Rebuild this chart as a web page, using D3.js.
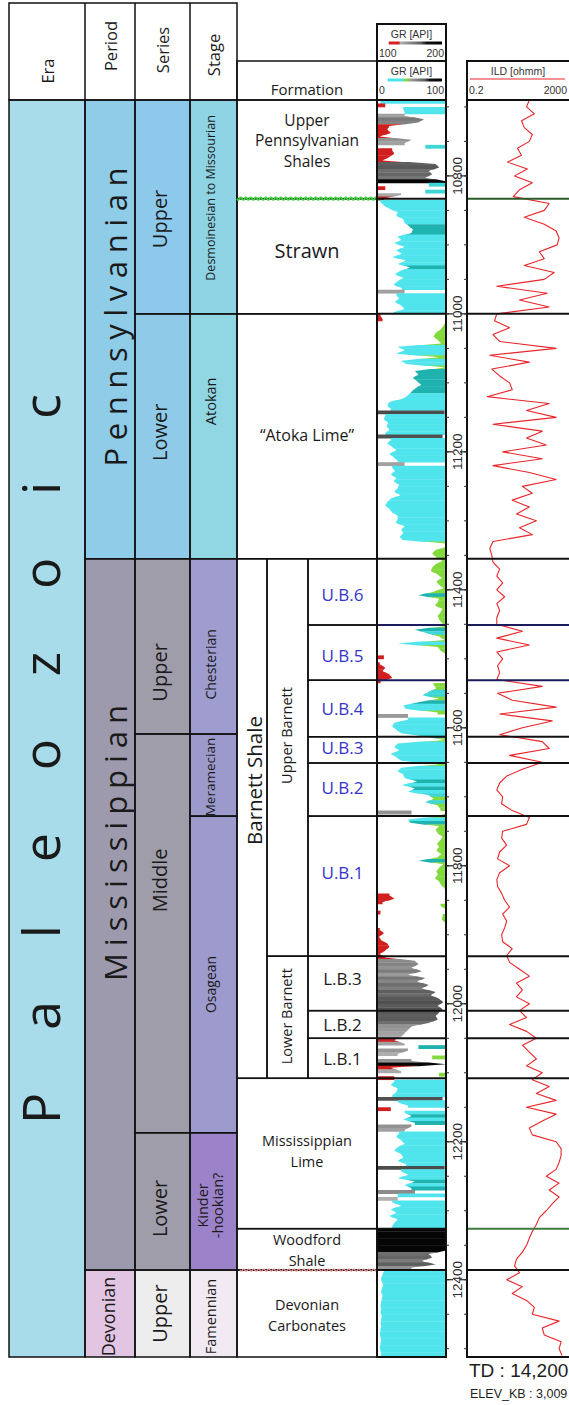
<!DOCTYPE html>
<html>
<head>
<meta charset="utf-8">
<title>Barnett Shale stratigraphic column</title>
<script src="https://cdn.jsdelivr.net/npm/d3@7/dist/d3.min.js"></script>
<style>
  html, body { margin: 0; padding: 0; background: #fff; }
  svg { display: block; }
</style>
</head>
<body>
<script>
// ---------- depth frame (ft) ----------
const depthRange = [10690, 12512];
const depthTicks = [10800, 11000, 11200, 11400, 11600, 11800, 12000, 12200, 12400];

// ---------- chronostratigraphy: [name, top, base] ----------
const eras = [["Paleozoic", 10690, 12512]];
const periods = [["Pennsylvanian", 10690, 11355], ["Mississippian", 11355, 12386], ["Devonian", 12386, 12512]];
const seriesUnits = [["Upper", 10690, 11000], ["Lower", 11000, 11355], ["Upper", 11355, 11609],
  ["Middle", 11609, 12187], ["Lower", 12187, 12386], ["Upper", 12386, 12512]];
const stages = [["Desmoinesian to Missourian", 10690, 11000], ["Atokan", 11000, 11355],
  ["Chesterian", 11355, 11609], ["Meramecian", 11609, 11728], ["Osagean", 11728, 12187],
  ["Kinder\n-hookian?", 12187, 12386], ["Famennian", 12386, 12512]];

// ---------- lithostratigraphy ----------
const formations = [["Upper\nPennsylvanian\nShales", 10690, 10833], ["Strawn", 10833, 11000],
  ["\u201CAtoka Lime\u201D", 11000, 11355], ["Mississippian\nLime", 12108, 12326],
  ["Woodford\nShale", 12326, 12386], ["Devonian\nCarbonates", 12386, 12512]];
const barnettShale = [["Barnett Shale", 11355, 12108]];
const barnettMembers = [["Upper Barnett", 11355, 11931], ["Lower Barnett", 11931, 12108]];
const barnettUnits = [["U.B.6", 11355, 11451], ["U.B.5", 11451, 11531], ["U.B.4", 11531, 11613],
  ["U.B.3", 11613, 11651], ["U.B.2", 11651, 11728], ["U.B.1", 11728, 11931],
  ["L.B.3", 11931, 12010], ["L.B.2", 12010, 12050], ["L.B.1", 12050, 12108]];

// ---------- gamma ray [API], 5 ft samples from 10690 ft ----------
const grStart = 10690, grStep = 5;
const grUpperPennShales = [5, 112, 38, 40, 140, 168, 160, 118, 115, 120, 104, 150, 140, 70, 122,
  125, 118, 108, 185, 190, 175, 180, 170, 210, 75, 112, 70, 135, 110];
const grStrawn = [5, 10, 18, 30, 28, 38, 40, 46, 52, 50, 30, 35, 25, 40, 28, 36, 22, 42, 30, 48,
  33, 26, 38, 30, 24, 36, 140, 28, 32, 26, 35, 40, 24];
const grAtoka = [105, 108, 99, 96, 92, 85, 82, 88, 93, 30, 40, 28, 90, 35, 42, 99, 55, 60, 52, 58,
  64, 56, 50, 45, 38, 18, 15, 20, 198, 12, 10, 16, 14, 18, 12, 195, 20, 15, 22, 28,
  18, 24, 30, 140, 22, 26, 20, 28, 24, 32, 30, 25, 34, 20, 15, 12, 18, 22, 30, 30,
  27, 40, 35, 38, 33, 37, 99, 99, 84, 80, 86];
const grUB6 = [95, 85, 80, 78, 88, 94, 86, 90, 96, 82, 60, 90, 88, 84, 95, 92, 88, 90, 94, 97];
const grUB5 = [55, 72, 90, 98, 30, 88, 92, 99, 110, 99, 104, 112, 108, 118, 122, 105];
const grUB4 = [82, 86, 75, 66, 90, 60, 38, 42, 88, 145, 45, 25, 22, 28, 35, 70, 98];
const grUB3 = [30, 25, 32, 20, 28, 35, 90];
const grUB2 = [35, 30, 38, 40, 58, 36, 55, 45, 75, 82, 70, 88, 92, 150, 95];
const grUB1 = [45, 48, 90, 85, 88, 95, 92, 87, 90, 86, 93, 88, 60, 96, 90, 86, 88, 84, 90, 93,
  98, 99, 118, 125, 108, 92, 99, 105, 95, 94, 99, 100, 104, 110, 103, 106, 115, 118, 112, 104];
const grLB3 = [112, 155, 160, 150, 165, 145, 170, 158, 175, 165, 185, 178, 190, 196, 188, 195];
const grLB2 = [190, 185, 188, 175, 150, 145, 140, 135, 125];
const grLB1 = [140, 60, 145, 130, 80, 150, 200, 120, 135, 90, 125];
const grMissLime = [25, 20, 30, 28, 22, 195, 30, 45, 120, 40, 50, 38, 55, 150, 140, 32, 28, 35, 40, 30,
  25, 35, 38, 30, 42, 198, 35, 45, 30, 55, 40, 50, 155, 30, 130, 22, 35, 20, 28, 18,
  30, 25, 22];
const grWoodford = [210, 210, 210, 210, 210, 210, 210, 175, 180, 165, 185, 150];
const grDevonian = [10, 8, 6, 7, 9, 7, 6, 8, 7, 6, 5, 6, 5, 7, 6, 5, 6, 5, 4, 5, 6, 5, 4, 5, 6, 5];

// ---------- deep induction resistivity [ohmm], 10 ft samples from 10690 ft ----------
const ildStart = 10690, ildStep = 10;
const ildUpperPenn = [50, 39, 78, 25, 32, 65, 50, 17.5, 25, 7.3, 42, 13.5, 65, 21, 12,
  290, 187, 32, 187, 537, 698, 586, 121, 187, 32, 451, 187, 2.8, 244, 21, 290];
const ildAtoka = [2.8, 2.3, 8.7, 2, 3.6, 537, 1.5, 50, 1.8, 3.6, 8.7, 11, 1.2, 290, 39, 537, 2, 157,
  39, 223, 4.7, 157, 2, 50, 537, 27, 65, 11, 50, 16, 93, 21, 65, 2, 1.5, 1.8];
const ildUpperBarnett = [2, 3.6, 2.8, 4.7, 2.8, 5.6, 2.8, 3.6, 2.8, 2.8, 27, 2.8, 50, 2.8, 4.7,
  3, 3.6, 2.8, 157, 3, 11, 537, 3.6, 378, 27, 3.6, 157, 290, 8.7, 157, 27, 6.7, 3.6, 2.8, 4.7,
  4.3, 11, 50, 39, 4.7, 4.3, 6.7, 3.6, 3, 8.7, 3.6, 2.8, 3, 4.3, 5.6, 8.7, 4.7, 6.7, 5.6, 4.3, 4.7, 11];
const ildLowerBarnett = [6.7, 8.7, 21, 50, 16, 27, 16, 50, 21, 39, 8.7, 39, 93, 27, 50, 93, 39, 157, 65, 290];
const ildLower = [93, 537, 39, 537, 157, 50, 65, 537, 832, 832, 698, 537, 223, 698, 290, 698, 378,
  223, 121, 93, 65, 50, 39, 27, 16, 13.5, 21, 6.7, 27, 11, 39, 78, 65, 698, 157, 187, 832, 698, 908];

// boundaries crossing the log tracks: [depth, GR-track colour, ILD-track colour]
const trackBreaks = [[10833, "#111", "#2b5a2b"], [11000, "#111", "#111"], [11355, "#111", "#111"],
  [11451, "#1c1c5c", "#1c1c5c"], [11531, "#1c1c5c", "#1c1c5c"], [11613, "#111", "#111"],
  [11651, "#111", "#111"], [11728, "#111", "#111"], [11931, "#111", "#111"], [12010, "#111", "#111"],
  [12050, "#111", "#111"], [12108, "#111", "#111"], [12326, "#111", "#3e7a3e"], [12386, "#111", "#111"]];

// ---------- styling ----------
const SANS = "'Open Sans', 'Noto Sans', sans-serif";
const ARIAL = "'Liberation Sans', Arial, sans-serif";
const eraFill = ["#a9dcea"];
const periodFill = ["#8fcce7", "#9d9aad", "#e2c5e2"];
const seriesFill = ["#8dc9ea", "#8fcbe9", "#a09dab", "#a09dab", "#a09dab", "#ededee"];
const stageFill = ["#8fd4e4", "#90d6e3", "#9f9dd0", "#9c9acc", "#9d9ace", "#9c83c9", "#f2eaf3"];

const X = { era: [9, 85], period: [85, 135], series: [135, 190], stage: [190, 237],
  form: [237, 377], shale: [237, 267], member: [267, 308], unit: [308, 377],
  gr: [377, 446], depth: [446, 467], ild: [467, 571] };

const svg = d3.select("body").append("svg").attr("width", 569).attr("height", 1405);
const y = d3.scaleLinear().domain(depthRange).range([100, 1357]);
const xGR = d3.scaleLinear().domain([0, 100]).range(X.gr);
const xGRwrap = d3.scaleLinear().domain([100, 200]).range(X.gr).clamp(true);
const xILD = d3.scaleLog().domain([0.2, 2000]).range(X.ild);

const defs = svg.append("defs");
const gFill = svg.append("g");
const gLog = svg.append("g");
const gText = svg.append("g");
const gLine = svg.append("g");

function band(x, top, base, fill) {
  gFill.append("rect").attr("x", x[0]).attr("y", y(top))
    .attr("width", x[1] - x[0]).attr("height", y(base) - y(top)).attr("fill", fill);
}
function frame(x, top, base, w = 1.5, stroke = "#111") {
  gLine.append("rect").attr("x", x[0]).attr("y", y(top))
    .attr("width", x[1] - x[0]).attr("height", y(base) - y(top))
    .attr("fill", "none").attr("stroke", stroke).attr("stroke-width", w);
}
function hline(x0, x1, yy, stroke = "#111", w = 1.5) {
  gLine.append("line").attr("x1", x0).attr("x2", x1).attr("y1", yy).attr("y2", yy)
    .attr("stroke", stroke).attr("stroke-width", w);
}
function vText(x, yc, str, size, opt = {}) {
  const t = gText.append("text")
    .attr("transform", `translate(${x},${yc}) rotate(-90)`)
    .attr("text-anchor", "middle")
    .attr("dominant-baseline", opt.baseline || "central")
    .attr("font-family", opt.font || SANS)
    .attr("font-size", size)
    .attr("fill", opt.fill || "#1a1a1a")
    .text(str);
  if (opt.len) t.attr("textLength", opt.len).attr("lengthAdjust", "spacing");
  return t;
}
function hText(x, yc, str, size, opt = {}) {
  return gText.append("text").attr("x", x).attr("y", yc)
    .attr("text-anchor", opt.anchor || "middle")
    .attr("dominant-baseline", opt.baseline || "central")
    .attr("font-family", opt.font || SANS)
    .attr("font-size", size)
    .attr("fill", opt.fill || "#1a1a1a")
    .text(str);
}
function hLines(x, yc, str, size, lh, opt = {}) {
  const lines = str.split("\n");
  lines.forEach((s, i) => hText(x, yc + (i - (lines.length - 1) / 2) * lh, s, size, opt));
}
const mid = (a, b) => (y(a) + y(b)) / 2;

// ---------- column fills ----------
eras.forEach((d, i) => band(X.era, d[1], d[2], eraFill[i]));
periods.forEach((d, i) => band(X.period, d[1], d[2], periodFill[i]));
seriesUnits.forEach((d, i) => band(X.series, d[1], d[2], seriesFill[i]));
stages.forEach((d, i) => band(X.stage, d[1], d[2], stageFill[i]));

// ---------- era / period labels (spaced capitals) ----------
vText(60, 759, eras[0][0], 52, { baseline: "alphabetic", len: 730 });
vText(127, 317, periods[0][0], 31, { baseline: "alphabetic", len: 299 });
vText(127, 843, periods[1][0], 31, { baseline: "alphabetic", len: 276 });
vText(108, mid(periods[2][1], periods[2][2]) + 3, periods[2][0], 18);

// series labels, nudged where the label sits off-centre in its box
const seriesNudge = [12, -4, 26, -53, 7, 0];
seriesUnits.forEach((d, i) => vText(159, mid(d[1], d[2]) + seriesNudge[i], d[0], 20));

const stageNudge = [-9, -35, 18, 2, 10, 4, 3];
const stageSize = [12.5, 14.5, 14, 13.5, 14, 14.5, 14.5];
stages.forEach((d, i) => {
  const lines = d[0].split("\n");
  lines.forEach((s, j) => vText(210 + (j - (lines.length - 1) / 2) * 15, mid(d[1], d[2]) + stageNudge[i], s, stageSize[i]));
});

// ---------- formation labels ----------
const formNudge = [-9, -6, -1, -2, 1, 1];
const formSize = [15.5, 20, 16, 14.5, 14.5, 14.5];
formations.forEach((d, i) => hLines(307, mid(d[1], d[2]) + formNudge[i], d[0], formSize[i], d[0].split("\n").length > 2 ? 20.5 : 21));

vText(254, mid(barnettShale[0][1], barnettShale[0][2]) - 38, barnettShale[0][0], 20.5);
const memberNudge = [-22, -1];
barnettMembers.forEach((d, i) => vText(286, mid(d[1], d[2]) + memberNudge[i], d[0], 14.5));
const unitNudge = [3, 3, 0, -2, -2, -14, -5, 0, 0];
barnettUnits.forEach((d, i) => hText(342.5, mid(d[1], d[2]) + unitNudge[i], d[0], 17,
  { fill: d[0].startsWith("U") ? "#3434c8" : "#1a1a1a" }));

// ---------- column outlines ----------
frame(X.era, depthRange[0], depthRange[1]);
periods.forEach(d => frame(X.period, d[1], d[2]));
seriesUnits.forEach(d => frame(X.series, d[1], d[2]));
stages.forEach(d => frame(X.stage, d[1], d[2]));
formations.forEach(d => frame(X.form, d[1], d[2]));
frame(X.shale, barnettShale[0][1], barnettShale[0][2]);
barnettMembers.forEach(d => frame(X.member, d[1], d[2]));
barnettUnits.forEach(d => frame(X.unit, d[1], d[2]));

// unconformities drawn as wavy contacts
function wavy(x0, x1, yy, amp, period) {
  const pts = d3.range(x0, x1 + 0.01, 0.5).map(x => [x, yy + amp * Math.sin((x - x0) / period * 2 * Math.PI)]);
  return d3.line()(pts);
}
gFill.append("rect").attr("x", X.form[0] + 1).attr("y", y(10833) - 2).attr("width", X.form[1] - X.form[0] - 2).attr("height", 4).attr("fill", "#fff");
gLine.append("path").attr("d", wavy(X.form[0], X.gr[0] + 3, y(10833), 1.4, 5))
  .attr("fill", "none").attr("stroke", "#3ddc3d").attr("stroke-width", 1.6);
gLine.append("path").attr("d", wavy(X.form[0] + 3, X.form[1], y(12386), 1.2, 5))
  .attr("fill", "none").attr("stroke", "#f29a9a").attr("stroke-width", 1.1);

// ---------- header ----------
const hdrTop = 3, hdrBot = 100, formHdrTop = 61;
gLine.append("rect").attr("x", X.era[0]).attr("y", hdrTop).attr("width", X.stage[1] - X.era[0])
  .attr("height", hdrBot - hdrTop).attr("fill", "none").attr("stroke", "#111").attr("stroke-width", 1.5);
[X.period[0], X.series[0], X.stage[0]].forEach(x =>
  gLine.append("line").attr("x1", x).attr("x2", x).attr("y1", hdrTop).attr("y2", hdrBot).attr("stroke", "#111").attr("stroke-width", 1.5));
const headers = [["Era", X.era, 71], ["Period", X.period, 46], ["Series", X.series, 50], ["Stage", X.stage, 55]];
headers.forEach(h => vText((h[1][0] + h[1][1]) / 2, h[2], h[0], 16.5));
gLine.append("rect").attr("x", X.form[0]).attr("y", formHdrTop).attr("width", X.form[1] - X.form[0])
  .attr("height", hdrBot - formHdrTop).attr("fill", "none").attr("stroke", "#111").attr("stroke-width", 1.5);
hText(307, 89, "Formation", 15);

// log headers
function grad(id, stops) {
  const g = defs.append("linearGradient").attr("id", id);
  stops.forEach(s => g.append("stop").attr("offset", s[0]).attr("stop-color", s[1]));
}
grad("grHi", [[0, "#ffffff"], [0.12, "#ffffff"], [0.13, "#d42020"], [0.3, "#d42020"], [0.31, "#b0b0b0"], [0.65, "#606060"], [0.75, "#111"], [1, "#000"]]);
grad("grLo", [[0, "#ffffff"], [0.1, "#ffffff"], [0.12, "#3ee6ee"], [0.33, "#58e0e8"], [0.42, "#80da3a"], [0.5, "#9a9a9a"], [0.72, "#5a5a5a"], [0.8, "#111"], [1, "#000"]]);

const hdrBoxes = [[24, 61, "grHi", "100", "200"], [61, 100, "grLo", "0", "100"]];
hdrBoxes.forEach(b => {
  gLine.append("rect").attr("x", X.gr[0]).attr("y", b[0]).attr("width", X.gr[1] - X.gr[0])
    .attr("height", b[1] - b[0]).attr("fill", "none").attr("stroke", "#111").attr("stroke-width", 2);
  hText((X.gr[0] + X.gr[1]) / 2, b[0] + 10, "GR [API]", 10.5, { font: ARIAL, fill: "#333" });
  gFill.append("rect").attr("x", X.gr[0] + 4).attr("y", b[0] + 17.5).attr("width", X.gr[1] - X.gr[0] - 8)
    .attr("height", 3).attr("fill", `url(#${b[2]})`);
  hText(X.gr[0] + 2, b[0] + 29, b[3], 10.5, { font: ARIAL, anchor: "start", fill: "#333" });
  hText(X.gr[1] - 2, b[0] + 29, b[4], 10.5, { font: ARIAL, anchor: "end", fill: "#333" });
});
gLine.append("rect").attr("x", X.ild[0]).attr("y", 61).attr("width", X.ild[1] - X.ild[0])
  .attr("height", 39).attr("fill", "none").attr("stroke", "#111").attr("stroke-width", 2);
hText(518, 71, "ILD [ohmm]", 10.5, { font: ARIAL, fill: "#333" });
hline(X.ild[0] + 3, X.ild[1] - 6, 79, "#e8252b", 1.2);
hText(X.ild[0] + 2, 90, "0.2", 10.5, { font: ARIAL, anchor: "start", fill: "#333" });
hText(567, 90, "2000", 10.5, { font: ARIAL, anchor: "end", fill: "#333" });

// ---------- gamma-ray track ----------
const gr = [].concat(grUpperPennShales, grStrawn, grAtoka, grUB6, grUB5, grUB4, grUB3, grUB2,
  grUB1, grLB3, grLB2, grLB1, grMissLime, grWoodford, grDevonian);
function grFill(g) {
  if (g >= 200) return "#060606";
  if (g > 100) return g < 128 ? "#d11f1f" : d3.interpolateRgb("#b2b2b2", "#4c4c4c")((g - 128) / 70);
  if (g >= 76) return "#82da3c";
  if (g >= 66) return "#3fd6d8";
  if (g >= 46) return "#1fb3b0";
  return "#50e5ed";
}
// 0-100 readings shade from the curve to the right edge; 100-200 readings wrap
// onto the second scale and shade from the left edge.
const regime = g => g > 100 ? 1 : 0;
const gx = g => g > 100 ? xGRwrap(g) : xGR(g);
defs.append("clipPath").attr("id", "grClip").append("rect")
  .attr("x", X.gr[0]).attr("y", y(depthRange[0])).attr("width", X.gr[1] - X.gr[0]).attr("height", y(depthRange[1]) - y(depthRange[0]));
const grG = gLog.append("g").attr("clip-path", "url(#grClip)");
grG.selectAll("path").data(gr).join("path")
  .attr("d", (g, i) => {
    const yTop = y(grStart + i * grStep), yBot = y(grStart + (i + 1) * grStep) + 0.4;
    const yMid = (yTop + yBot) / 2, xm = gx(g);
    const prev = gr[i - 1], next = gr[i + 1];
    const xt = prev !== undefined && regime(prev) === regime(g) ? (gx(prev) + xm) / 2 : xm;
    const xb = next !== undefined && regime(next) === regime(g) ? (gx(next) + xm) / 2 : xm;
    const edge = regime(g) ? X.gr[0] : X.gr[1];
    return d3.line()([[xt, yTop], [xm, yMid], [xb, yBot], [edge, yBot], [edge, yTop]]) + "Z";
  })
  .attr("fill", grFill);

// ---------- resistivity track ----------
const ild = [].concat(ildUpperPenn, ildAtoka, ildUpperBarnett, ildLowerBarnett, ildLower);
defs.append("clipPath").attr("id", "ildClip").append("rect")
  .attr("x", X.ild[0]).attr("y", y(depthRange[0])).attr("width", X.ild[1] - X.ild[0]).attr("height", y(depthRange[1]) - y(depthRange[0]));
gLog.append("path").datum(ild).attr("clip-path", "url(#ildClip)")
  .attr("d", d3.line().x(v => xILD(v)).y((v, i) => y(ildStart + i * ildStep)))
  .attr("fill", "none").attr("stroke", "#e8252b").attr("stroke-width", 1.1).attr("stroke-linejoin", "round");

// ---------- track boundaries and frames ----------
trackBreaks.forEach(b => {
  hline(X.gr[0], X.gr[1], y(b[0]), b[1], 2);
  hline(X.ild[0], X.ild[1], y(b[0]), b[2], 2);
});
frame(X.gr, depthRange[0], depthRange[1], 2);
frame(X.ild, depthRange[0], depthRange[1], 2);

// ---------- depth track ----------
d3.range(10700, depthRange[1], 50).forEach(d => {
  hline(X.depth[0], X.depth[0] + 3, y(d), "#333", 1);
  hline(X.depth[1] - 3, X.depth[1], y(d), "#333", 1);
});
depthTicks.forEach(d => {
  hline(X.depth[0], X.depth[0] + 7, y(d), "#222", 1.2);
  hline(X.depth[1] - 7, X.depth[1], y(d), "#222", 1.2);
  vText(457, y(d), String(d), 13.5, { font: ARIAL, fill: "#2a2a2a" });
});

// ---------- well summary ----------
hText(469, 1377, "TD : 14,200", 19, { font: ARIAL, anchor: "start", baseline: "alphabetic", fill: "#1e1e1e" });
hText(470, 1398, "ELEV_KB : 3,009", 12.5, { font: ARIAL, anchor: "start", baseline: "alphabetic", fill: "#1e1e1e" });
</script>
</body>
</html>
